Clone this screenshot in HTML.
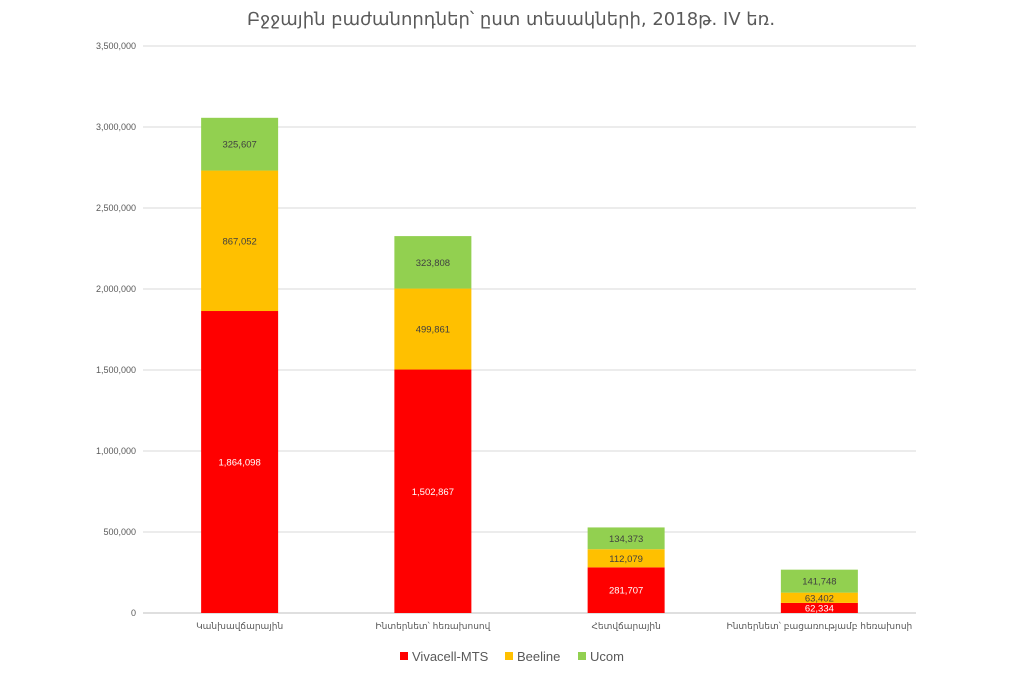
<!DOCTYPE html>
<html><head><meta charset="utf-8"><style>
body{margin:0;background:#fff;width:1022px;height:676px;overflow:hidden;font-family:"Liberation Sans","DejaVu Sans",sans-serif}
</style></head><body>
<svg id="chart" width="1022" height="676" xmlns="http://www.w3.org/2000/svg" font-family="'Liberation Sans','DejaVu Sans',sans-serif">
<text x="511" y="25" text-anchor="middle" font-size="18" fill="#595959" font-family="'DejaVu Sans',sans-serif">Բջջային բաժանորդներ՝ ըստ տեսակների, 2018թ. IV եռ.</text>
<g id="grid"></g><g id="bars"></g><g id="xlabels"></g>
<g font-size="13" fill="#595959">
<rect x="400" y="652" width="8" height="8" fill="#ff0000"/>
<text x="412" y="661">Vivacell-MTS</text>
<rect x="505" y="652" width="8" height="8" fill="#ffc000"/>
<text x="517" y="661">Beeline</text>
<rect x="578" y="652" width="8" height="8" fill="#92d050"/>
<text x="590" y="661">Ucom</text>
</g>
</svg>
<script>
const categories=["Կանխավճարային","Ինտերնետ՝ հեռախոսով","Հետվճարային","Ինտերնետ՝ բացառությամբ հեռախոսի"];
const vivacell=[1864098,1502867,281707,62334];
const beeline=[867052,499861,112079,63402];
const ucom=[325607,323808,134373,141748];
const ticks=[0,500000,1000000,1500000,2000000,2500000,3000000,3500000];
const NS="http://www.w3.org/2000/svg";
const x0=143,x1=916,y0=613,yTop=46,maxV=3500000;
const y=v=>y0-(v/maxV)*(y0-yTop);
const band=(x1-x0)/categories.length;
const xc=i=>x0+band*(i+0.5);
const fmt=v=>v.toLocaleString('en-US');
function mk(tag,attrs,parent){const e=document.createElementNS(NS,tag);for(const k in attrs)e.setAttribute(k,attrs[k]);parent.appendChild(e);return e;}
const grid=document.getElementById('grid');
ticks.forEach(t=>{
  const l=mk('line',{x1:x0,x2:x1,y1:y(t),y2:y(t),stroke:t===0?'#bfbfbf':'#d9d9d9','stroke-width':1},grid);
  
  
  const tx=mk('text',{x:136,y:y(t)+3,'text-anchor':'end','font-size':9,fill:'#595959'},grid);
  tx.textContent=fmt(t);
  
  
});
const series=[{d:vivacell,c:'#ff0000',n:'vivacell',tc:'#ffffff'},{d:beeline,c:'#ffc000',n:'beeline',tc:'#404040'},{d:ucom,c:'#92d050',n:'ucom',tc:'#404040'}];
const bars=document.getElementById('bars');const bw=77;
categories.forEach((cat,i)=>{
  let base=0;
  series.forEach(s=>{
    const v=s.d[i];const top=y(base+v),bot=y(base);
    const r=mk('rect',{x:xc(i)-bw/2,y:top,width:bw,height:bot-top,fill:s.c},bars);
    
    
    const t=mk('text',{x:xc(i),y:(top+bot)/2+3.5,'text-anchor':'middle','font-size':9.5,fill:s.tc},bars);
    t.textContent=fmt(v);
    
    
    base+=v;
  });
  const xl=mk('text',{x:xc(i),y:629,'text-anchor':'middle','font-size':9,fill:'#595959','font-family':"'DejaVu Sans',sans-serif"},document.getElementById('xlabels'));
  xl.textContent=cat;
  
  
});
</script>
</body></html>
